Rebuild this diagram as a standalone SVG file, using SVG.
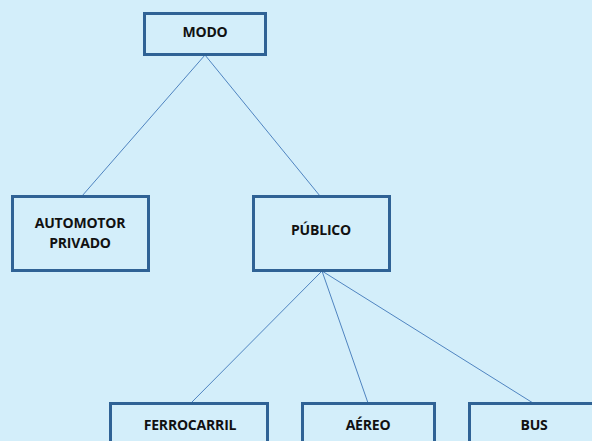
<svg xmlns="http://www.w3.org/2000/svg" width="592" height="441" viewBox="0 0 592 441">
<style>
.box{fill:#D3EEFA;stroke:#2F6295;stroke-width:3}
.lbl{font-family:"Open Sans","Liberation Sans",Arial,sans-serif;font-weight:bold;font-size:14px;fill:#111;text-anchor:middle;letter-spacing:-0.2px}
.ln{stroke:#4F84C0;stroke-width:1;fill:none}
</style>
<rect width="592" height="441" fill="#D3EEFA"/>
<g id="connectors">
<line class="ln" x1="205" y1="55" x2="82" y2="196"/>
<line class="ln" x1="205" y1="55" x2="320" y2="196"/>
<line class="ln" x1="322" y1="271" x2="191" y2="403"/>
<line class="ln" x1="322" y1="271" x2="368" y2="403"/>
<line class="ln" x1="322" y1="271" x2="533" y2="403"/>
</g>
<g id="modo"><rect class="box" x="144.5" y="13.5" width="121" height="41"/><text class="lbl" x="205" y="37">MODO</text></g>
<g id="automotor"><rect class="box" x="12.5" y="196.5" width="136" height="74"/><text class="lbl" x="80" y="228">AUTOMOTOR</text><text class="lbl" x="80" y="248">PRIVADO</text></g>
<g id="publico"><rect class="box" x="253.5" y="196.5" width="136" height="74"/><text class="lbl" x="321" y="235">PÚBLICO</text></g>
<g id="ferrocarril"><rect class="box" x="110.5" y="403.5" width="157" height="45"/><text class="lbl" x="190" y="430">FERROCARRIL</text></g>
<g id="aereo"><rect class="box" x="302.5" y="403.5" width="132" height="45"/><text class="lbl" x="368" y="430">AÉREO</text></g>
<g id="bus"><rect class="box" x="469.5" y="403.5" width="130" height="45"/><text class="lbl" x="534" y="430">BUS</text></g>
</svg>
